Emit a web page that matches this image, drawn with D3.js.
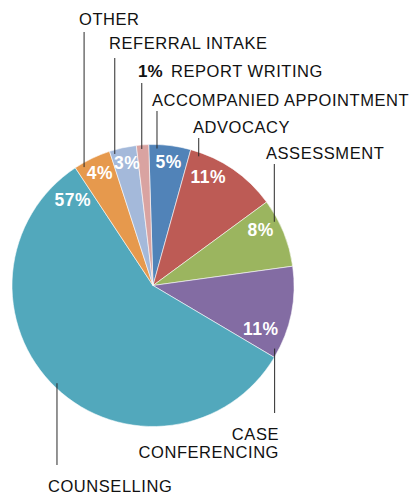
<!DOCTYPE html>
<html>
<head>
<meta charset="utf-8">
<script src="https://cdn.jsdelivr.net/npm/d3@7"></script>
<style>
  html, body { margin: 0; padding: 0; background: #fff; }
  svg { display: block; }
</style>
</head>
<body>
<div id="chart"></div>
<script>
// ---- data ----
const categories = ["ACCOMPANIED APPOINTMENT", "ADVOCACY", "ASSESSMENT", "CASE CONFERENCING",
                    "COUNSELLING", "OTHER", "REFERRAL INTAKE", "REPORT WRITING"];
const shares = [4.8, 10.6, 7.9, 10.7, 57.2, 4.3, 3.1, 1.4];
const pctLabels = ["5%", "11%", "8%", "11%", "57%", "4%", "3%", "1%"];
const colors = ["#5183b8", "#bd5b55", "#9bb55f", "#836ca3", "#52a8bc", "#e6994d", "#a4b9da", "#d9a3a1"];

// ---- layout (styling / placement) ----
const W = 411, H = 497;
const cx = 153, cy = 285.5, R = 141;
const startDeg = -1.75;
// inside label placement: [fraction along slice, fraction of radius]
const insidePos = [[0.52, 0.885], [0.30, 0.864], [0.32, 0.858], [0.78, 0.826],
                   [0.952, 0.83], [0.53, 0.882], [0.54, 0.886], null];
// outside category labels with vertical leader lines
const leaders = [
  { angle: 1.67,  lines: ["ACCOMPANIED APPOINTMENT"], x: 152, y: [106], anchor: "start", lineEnd: 111 },
  { angle: 19.5,  lines: ["ADVOCACY"], x: 193, y: [133], anchor: "start", lineEnd: 138 },
  { angle: 62.3,  lines: ["ASSESSMENT"], x: 266, y: [159], anchor: "start", lineEnd: 164 },
  { angle: 117.4, lines: ["CASE", "CONFERENCING"], x: 279, y: [440, 458], anchor: "end", lineEnd: 413 },
  { angle: 224.5, lines: ["COUNSELLING"], x: 48, y: [492], anchor: "start", lineEnd: 465 },
  { angle: -30.2, lines: ["OTHER"], x: 79, y: [25], anchor: "start", lineEnd: 32 },
  { angle: -16.2, lines: ["REFERRAL INTAKE"], x: 109, y: [49], anchor: "start", lineEnd: 58 },
  { angle: -4.7,  lines: ["REPORT WRITING"], x: 171, y: [77], anchor: "start", lineEnd: 83, pctX: 138 }
];

const data = categories.map((c, i) => ({ cat: c, value: shares[i], pct: pctLabels[i], color: colors[i], i }));

const svg = d3.select("#chart").append("svg").attr("width", W).attr("height", H);
const g = svg.append("g").attr("transform", `translate(${cx},${cy})`);

const rad = d => d * Math.PI / 180;
const pie = d3.pie().value(d => d.value).sort(null)
  .startAngle(rad(startDeg)).endAngle(rad(startDeg) + 2 * Math.PI);
const arcs = pie(data);
const arc = d3.arc().innerRadius(0).outerRadius(R);

g.selectAll("path.slice").data(arcs).enter().append("path")
  .attr("class", "slice")
  .attr("d", arc)
  .attr("fill", d => d.data.color)
  .attr("stroke", "rgba(255,255,255,0.7)")
  .attr("stroke-width", 0.8);

// inside percentage labels
arcs.forEach((a, i) => {
  const p = insidePos[i];
  if (!p) return;
  const ang = a.startAngle + (a.endAngle - a.startAngle) * p[0];
  const rr = R * p[1];
  g.append("text")
    .attr("x", rr * Math.sin(ang))
    .attr("y", -rr * Math.cos(ang))
    .attr("text-anchor", "middle")
    .attr("dominant-baseline", "central")
    .attr("fill", "#fff")
    .attr("font-family", "Liberation Sans, Arial, sans-serif")
    .attr("font-weight", "bold")
    .attr("font-size", 17.5)
    .attr("letter-spacing", 0.5)
    .text(a.data.pct);
});

// leader lines + category labels
const lineR = R - 4;
leaders.forEach((L, i) => {
  const lx = cx + lineR * Math.sin(rad(L.angle));
  const ly = cy - lineR * Math.cos(rad(L.angle));
  svg.append("line")
    .attr("x1", lx).attr("x2", lx)
    .attr("y1", ly).attr("y2", L.lineEnd)
    .attr("stroke", "#2a2a2a").attr("stroke-width", 1);
  L.lines.forEach((t, k) => {
    svg.append("text")
      .attr("x", L.x).attr("y", L.y[k])
      .attr("text-anchor", L.anchor)
      .attr("fill", "#111")
      .attr("font-family", "Liberation Sans, Arial, sans-serif")
      .attr("font-size", 16.5)
      .attr("letter-spacing", 0.55)
      .text(t);
  });
  if (L.pctX !== undefined) {
    svg.append("text")
      .attr("x", L.pctX).attr("y", L.y[0])
      .attr("fill", "#111")
      .attr("font-family", "Liberation Sans, Arial, sans-serif")
      .attr("font-weight", "bold")
      .attr("font-size", 17)
      .text(data[i].pct);
  }
});
</script>
</body>
</html>
